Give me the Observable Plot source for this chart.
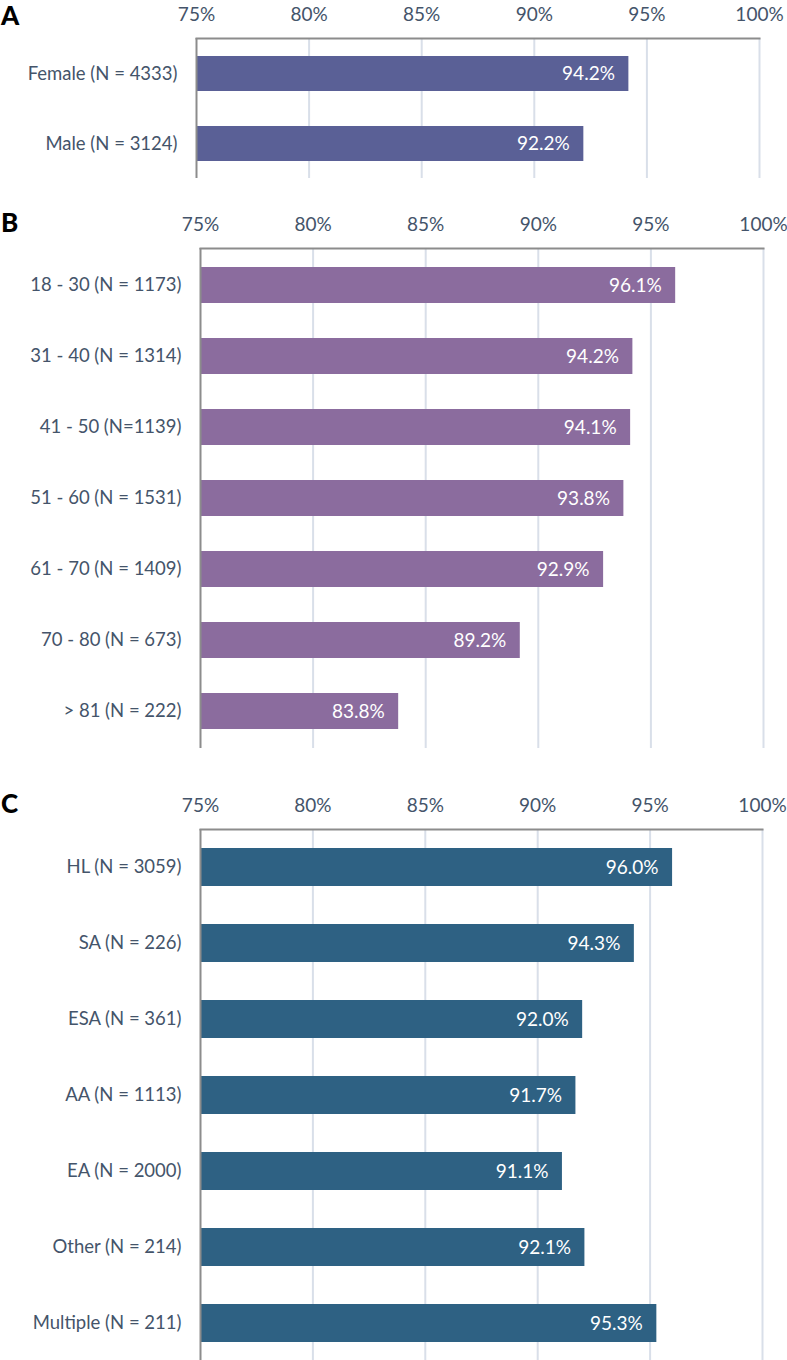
<!DOCTYPE html>
<html>
<head>
<meta charset="utf-8">
<script src="https://cdn.jsdelivr.net/npm/d3@7"></script>
<script src="https://cdn.jsdelivr.net/npm/@observablehq/plot@0.6"></script>
<style>
  html, body { margin: 0; padding: 0; background: #fff; }
  #root { position: relative; width: 787px; height: 1360px; overflow: hidden; font-family: Lato, "Open Sans", sans-serif; }
  .panel { position: absolute; left: 0; }
  .letter { position: absolute; left: 1px; font-family: Lato, sans-serif; font-weight: 900; font-size: 26px; color: #000; line-height: 1; }
</style>
</head>
<body>
<div id="root"></div>
<script>
// Panel A: sex
const sexLabels = ["Female (N = 4333)", "Male (N = 3124)"];
const sexValues = [94.2, 92.2];
// Panel B: age
const ageLabels = ["18 - 30 (N = 1173)", "31 - 40 (N = 1314)", "41 - 50 (N=1139)", "51 - 60 (N = 1531)", "61 - 70 (N = 1409)", "70 - 80 (N = 673)", "> 81 (N = 222)"];
const ageValues = [96.1, 94.2, 94.1, 93.8, 92.9, 89.2, 83.8];
// Panel C: ancestry
const ancLabels = ["HL (N = 3059)", "SA (N = 226)", "ESA (N = 361)", "AA (N = 1113)", "EA (N = 2000)", "Other (N = 214)", "Multiple (N = 211)"];
const ancValues = [96.0, 94.3, 92.0, 91.7, 91.1, 92.1, 95.3];
// Axis ticks
const xTicks = [75, 80, 85, 90, 95, 100];
const gridTicks = [80, 85, 90, 95, 100];

const textColor = "#44546A";
const root = document.getElementById("root");

function panel(labels, values, color, opts) {
  const data = labels.map((l, i) => ({label: l, value: values[i]}));
  const plotH = opts.plotH;
  const chart = Plot.plot({
    width: 787,
    height: 38 + plotH + opts.mb,
    marginTop: 38,
    marginBottom: opts.mb,
    marginLeft: opts.ml,
    marginRight: 787 - opts.xr,
    style: {fontFamily: "Lato, 'Open Sans', sans-serif", color: textColor, background: "transparent"},
    x: {domain: [75, 100]},
    y: {domain: labels, paddingInner: 0.5, paddingOuter: 0.25},
    marks: [
      Plot.ruleX(gridTicks, {stroke: "#D9DFE9", strokeWidth: 2}),
      Plot.barX(data, {x1: d => 75, x2: "value", y: "label", fill: color}),
      Plot.text(data, {x: "value", y: "label", text: d => d.value.toFixed(1) + "%", textAnchor: "end", dx: -14, fill: "white", fontSize: 19}),
      Plot.ruleX([75], {stroke: "#8C8C8C", strokeWidth: 2}),
      Plot.frame({anchor: "top", stroke: "#8C8C8C", strokeWidth: 2}),
      Plot.axisX({anchor: "top", ticks: xTicks, tickFormat: d => d + "%", tickSize: 0, tickPadding: 18, fontSize: 19, fill: textColor, label: null}),
      Plot.axisY({anchor: "left", tickSize: 0, tickPadding: opts.tp, fontSize: 18.5, fill: textColor, label: null})
    ]
  });
  chart.classList.add("panel");
  chart.style.top = opts.top + "px";
  root.appendChild(chart);
  const L = document.createElement("div");
  L.className = "letter";
  L.textContent = opts.letter;
  L.style.top = opts.letterTop + "px";
  root.appendChild(L);
}

panel(sexLabels, sexValues, "#5A6096", {top: 0, plotH: 140, mb: 2, ml: 196, xr: 759, tp: 19, letter: "A", letterTop: 2});
panel(ageLabels, ageValues, "#8B6C9E", {top: 210, plotH: 500, mb: 2, ml: 200, xr: 763, tp: 19, letter: "B", letterTop: 209});
panel(ancLabels, ancValues, "#2E6183", {top: 791, plotH: 532, mb: 0, ml: 200, xr: 762, tp: 19, letter: "C", letterTop: 790});
</script>
</body>
</html>
